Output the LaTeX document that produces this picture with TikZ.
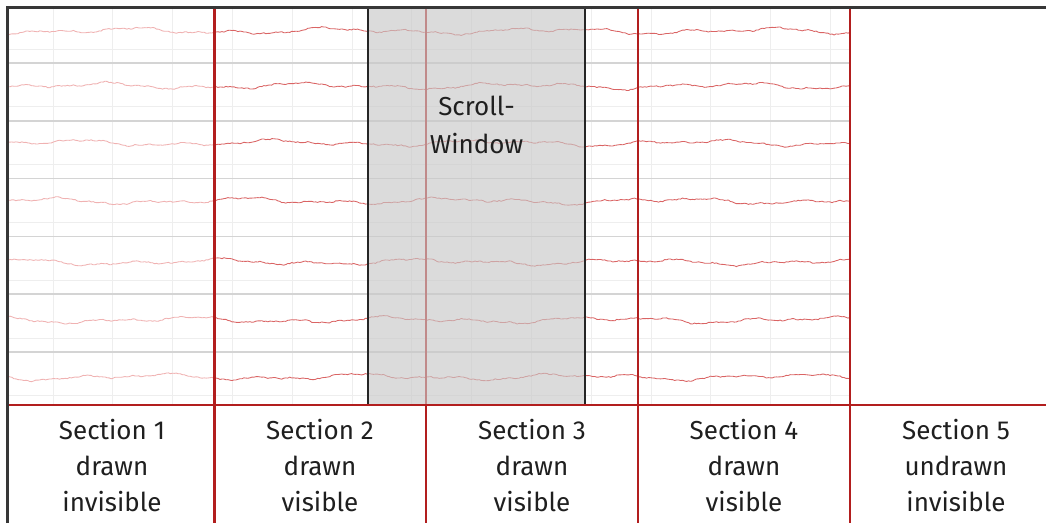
\documentclass[tikz,border=0pt]{standalone}
\usepackage{fontspec}
\setmainfont{Fira Sans}
\definecolor{secred}{RGB}{178,30,30}
\definecolor{wavered}{RGB}{218,100,100}
\definecolor{wavepink}{RGB}{240,178,178}
\definecolor{gridmaj}{RGB}{212,212,212}
\definecolor{gridmin}{RGB}{238,238,238}
\definecolor{winfill}{RGB}{200,200,200}
\definecolor{frame}{RGB}{55,55,55}
\begin{document}
\begin{tikzpicture}[x=1pt,y=-1pt,
  secline/.style={draw=secred, line width=2.4pt},
  gridminor/.style={draw=gridmin, line width=1pt},
  gridmajor/.style={draw=gridmaj, line width=1.6pt},
  wavefaint/.style={draw=wavepink, line width=0.85pt, line join=round},
  wavestrong/.style={draw=wavered, line width=0.85pt, line join=round},
  winbox/.style={fill=winfill, fill opacity=0.64},
  winedge/.style={draw=black!85, line width=2pt},
  lbl/.style={font=\fontsize{26}{36}\selectfont, align=center, text=black!88, inner sep=0pt}]
\useasboundingbox (0,0) rectangle (1046,523);
\fill[white] (0,0) rectangle (1046,523);
% grid
\foreach \i in {0,...,13} {
  \draw[gridminor] ({53+59.8*\i},8) -- ({53+59.8*\i},405);
}
\foreach \k in {0,...,6} {
  \draw[gridminor] (8,{49+57.8*\k}) -- (850,{49+57.8*\k});
}
\foreach \k in {0,...,5} {
  \draw[gridmajor] (8,{63+57.8*\k}) -- (850,{63+57.8*\k});
}
% waves
\pgfmathsetseed{4242}
\foreach \yc [count=\k] in {31,86,143,201,262,320,377} {
  \draw[wavefaint] plot[domain=8:214, samples=105, variable=\t]
    (\t, {\yc + 1.9*sin(1.7*\t+53*\k) + 1.5*sin(3.9*\t+97*\k) + 0.8*sin(8.7*\t+31*\k) + 0.35*sin(23*mod(\t,15.652)+11*\k) + 0.5*rand});
  \draw[wavestrong] plot[domain=214:850, samples=320, variable=\t]
    (\t, {\yc + 1.9*sin(1.7*\t+53*\k) + 1.5*sin(3.9*\t+97*\k) + 0.8*sin(8.7*\t+31*\k) + 0.35*sin(23*mod(\t,15.652)+11*\k) + 0.5*rand});
}
% section boundaries (vertical)
\foreach \xs in {214.5,426,638,850} {
  \draw[secline] (\xs,8) -- (\xs,523);
}
% scroll window
\fill[winbox] (368,8) rectangle (585,405);
\draw[winedge] (368,8) -- (368,405) (585,8) -- (585,405);
\node[lbl] (win) at (476.5,125) {Scroll-\\[2pt]Window};
% horizontal section line
\draw[secline] (8,405) -- (1046,405);
% frame
\draw[draw=frame, line width=3pt] (7.5,523) -- (7.5,7.5) -- (1046,7.5);
% labels
\node[lbl] (s1) at (112,466) {Section 1\\drawn\\invisible};
\node[lbl] (s2) at (320,466) {Section 2\\drawn\\visible};
\node[lbl] (s3) at (532,466) {Section 3\\drawn\\visible};
\node[lbl] (s4) at (744,466) {Section 4\\drawn\\visible};
\node[lbl] (s5) at (956,466) {Section 5\\undrawn\\invisible};
\end{tikzpicture}
\end{document}
